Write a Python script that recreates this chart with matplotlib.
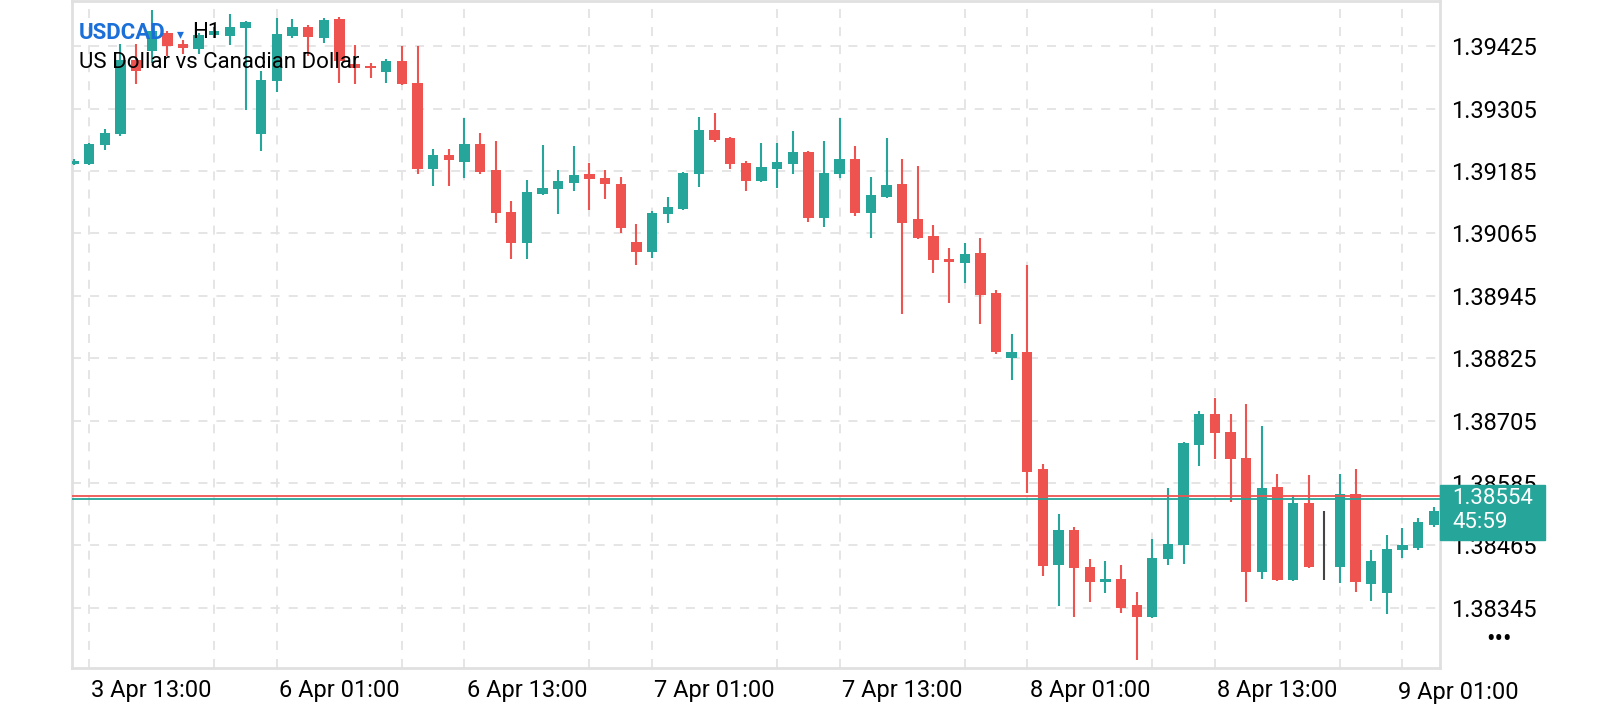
import matplotlib
matplotlib.use("Agg")
import matplotlib.pyplot as plt
from matplotlib.patches import Rectangle
from matplotlib.transforms import blended_transform_factory

plt.rcParams['font.family'] = ['Roboto', 'DejaVu Sans']

# hourly USDCAD candles
opens = [1.39198, 1.39198, 1.39235, 1.39256, 1.39398, 1.39415, 1.39450, 1.39429, 1.39419, 1.39446,
         1.39444, 1.39460, 1.39256, 1.39358, 1.39444, 1.39461, 1.39440, 1.39477, 1.39390, 1.39387,
         1.39375, 1.39396, 1.39354, 1.39189, 1.39216, 1.39202, 1.39237, 1.39187, 1.39106, 1.39047,
         1.39141, 1.39150, 1.39162, 1.39179, 1.39172, 1.39160, 1.39049, 1.39029, 1.39102, 1.39112,
         1.39179, 1.39264, 1.39248, 1.39200, 1.39166, 1.39189, 1.39198, 1.39221, 1.39095, 1.39179,
         1.39208, 1.39104, 1.39135, 1.39160, 1.39093, 1.39060, 1.39016, 1.39008, 1.39028, 1.38951,
         1.38826, 1.38837, 1.38611, 1.38427, 1.38494, 1.38423, 1.38394, 1.38400, 1.38350, 1.38327,
         1.38438, 1.38465, 1.38659, 1.38718, 1.38684, 1.38634, 1.38413, 1.38578, 1.38398, 1.38546,
         1.38427, 1.38423, 1.38563, 1.38390, 1.38373, 1.38457, 1.38461, 1.38505]
highs = [1.39208, 1.39239, 1.39266, 1.39429, 1.39429, 1.39494, 1.39454, 1.39437, 1.39450, 1.39461,
         1.39486, 1.39473, 1.39377, 1.39479, 1.39477, 1.39465, 1.39479, 1.39481, 1.39427, 1.39392,
         1.39400, 1.39425, 1.39425, 1.39227, 1.39227, 1.39287, 1.39258, 1.39243, 1.39127, 1.39168,
         1.39235, 1.39187, 1.39233, 1.39200, 1.39187, 1.39173, 1.39083, 1.39108, 1.39135, 1.39183,
         1.39289, 1.39296, 1.39250, 1.39204, 1.39239, 1.39239, 1.39262, 1.39223, 1.39243, 1.39287,
         1.39233, 1.39173, 1.39248, 1.39208, 1.39195, 1.39081, 1.39037, 1.39047, 1.39056, 1.38957,
         1.38872, 1.39005, 1.38621, 1.38526, 1.38501, 1.38438, 1.38436, 1.38427, 1.38375, 1.38478,
         1.38576, 1.38663, 1.38724, 1.38749, 1.38718, 1.38736, 1.38695, 1.38603, 1.38561, 1.38601,
         1.38532, 1.38603, 1.38611, 1.38457, 1.38486, 1.38498, 1.38517, 1.38538]
lows = [1.39196, 1.39196, 1.39225, 1.39252, 1.39352, 1.39392, 1.39406, 1.39410, 1.39410, 1.39440,
        1.39427, 1.39302, 1.39223, 1.39337, 1.39440, 1.39406, 1.39431, 1.39354, 1.39352, 1.39364,
        1.39354, 1.39350, 1.39179, 1.39156, 1.39156, 1.39172, 1.39179, 1.39085, 1.39016, 1.39016,
        1.39139, 1.39102, 1.39147, 1.39110, 1.39131, 1.39066, 1.39005, 1.39018, 1.39085, 1.39110,
        1.39154, 1.39241, 1.39189, 1.39147, 1.39164, 1.39152, 1.39179, 1.39087, 1.39077, 1.39172,
        1.39099, 1.39056, 1.39133, 1.38910, 1.39054, 1.38989, 1.38932, 1.38970, 1.38891, 1.38834,
        1.38784, 1.38565, 1.38407, 1.38348, 1.38327, 1.38357, 1.38373, 1.38336, 1.38244, 1.38325,
        1.38427, 1.38429, 1.38617, 1.38632, 1.38548, 1.38356, 1.38400, 1.38396, 1.38396, 1.38421,
        1.38398, 1.38392, 1.38375, 1.38359, 1.38334, 1.38440, 1.38457, 1.38500]
closes = [1.39204, 1.39237, 1.39258, 1.39398, 1.39377, 1.39454, 1.39425, 1.39421, 1.39446, 1.39454,
          1.39461, 1.39471, 1.39360, 1.39448, 1.39461, 1.39442, 1.39475, 1.39396, 1.39383, 1.39383,
          1.39396, 1.39352, 1.39189, 1.39216, 1.39206, 1.39237, 1.39183, 1.39104, 1.39047, 1.39145,
          1.39152, 1.39166, 1.39177, 1.39170, 1.39160, 1.39076, 1.39029, 1.39104, 1.39116, 1.39181,
          1.39264, 1.39245, 1.39198, 1.39166, 1.39193, 1.39202, 1.39221, 1.39095, 1.39181, 1.39208,
          1.39104, 1.39139, 1.39158, 1.39085, 1.39056, 1.39014, 1.39010, 1.39026, 1.38947, 1.38836,
          1.38837, 1.38607, 1.38425, 1.38494, 1.38421, 1.38394, 1.38400, 1.38344, 1.38327, 1.38440,
          1.38467, 1.38661, 1.38718, 1.38682, 1.38632, 1.38413, 1.38576, 1.38398, 1.38546, 1.38423,
          1.38427, 1.38563, 1.38394, 1.38436, 1.38459, 1.38465, 1.38511, 1.38532]

tick_pos = [5, 17, 29, 41, 53, 65, 77]
tick_labels = ["3 Apr 13:00", "6 Apr 01:00", "6 Apr 13:00", "7 Apr 01:00",
               "7 Apr 13:00", "8 Apr 01:00", "8 Apr 13:00"]
last_label = "9 Apr 01:00"
price_ticks = [1.38345, 1.38465, 1.38585, 1.38705, 1.38825, 1.38945, 1.39065, 1.39185, 1.39305, 1.39425]
bid = 1.38554
ask = 1.38560

UP = "#26a69a"
DOWN = "#ef5350"
GRID = "#e3e3e3"

fig = plt.figure(figsize=(16, 7.2), dpi=100)
ax = fig.add_axes([0.045, 0.072, 0.855, 0.926])

for i, (o, h, l, c) in enumerate(zip(opens, highs, lows, closes)):
    if c > o:
        col = UP
    elif c < o:
        col = DOWN
    else:
        col = "#444444"
    ax.vlines(i, l, h, color=col, linewidth=1.5, zorder=3)
    body = max(abs(c - o), 0.000012)
    ax.bar(i, body, bottom=min(o, c), width=0.66, color=col, zorder=3, linewidth=0)

ax.axhline(ask, color=DOWN, linewidth=1.3, zorder=4)
ax.axhline(bid, color=UP, linewidth=1.3, zorder=4)

ax.set_xlim(-0.1, 87.4)
ax.set_ylim(1.38229, 1.39511)

ax.set_xticks(tick_pos)
ax.set_xticklabels(tick_labels)
ax.set_xticks(range(1, 88, 4), minor=True)
ax.tick_params(axis='x', which='both', length=0, labelsize=17, pad=8)
ax.yaxis.tick_right()
ax.set_yticks(price_ticks)
ax.set_yticklabels([f"{p:.5f}" for p in price_ticks])
ax.tick_params(axis='y', length=0, labelsize=17, pad=8)
ax.grid(True, which='minor', axis='x', color=GRID, linestyle=(0, (5, 5)), linewidth=1.3)
ax.grid(True, which='major', axis='y', color=GRID, linestyle=(0, (5, 5)), linewidth=1.3)
ax.set_axisbelow(True)
for s in ax.spines.values():
    s.set_color("#e0e0e0")
    s.set_linewidth(2)

trans = blended_transform_factory(ax.transData, ax.transAxes)
ax.text(88.6, -0.02, last_label, transform=trans, ha='center', va='top', fontsize=17, clip_on=False)

# current price tag
fig.patches.append(Rectangle((1440 / 1600, 1 - 540 / 720), 105 / 1600, 55 / 720,
                             transform=fig.transFigure, color=UP, zorder=5))
fig.text(1452 / 1600, 1 - 498 / 720, f"{bid:.5f}", color="white", fontsize=16, va='center', zorder=6)
fig.text(1452 / 1600, 1 - 523 / 720, "45:59", color="white", fontsize=16, va='center', zorder=6)
fig.text(1486 / 1600, 1 - 640 / 720, "•••", fontsize=18, va='center', color="black")

# header
fig.text(79 / 1600, 1 - 33 / 720, "USDCAD", color="#1a6fd8", fontsize=16, fontweight='bold', va='center')
fig.text(177 / 1600, 1 - 34 / 720, "▾", color="#1a6fd8", fontsize=10, va='center')
fig.text(192 / 1600, 1 - 33 / 720, "H1", color="black", fontsize=16, va='center')
fig.text(79 / 1600, 1 - 62 / 720, "US Dollar vs Canadian Dollar", color="black", fontsize=16, va='center')

fig.savefig("out.png", dpi=100)
